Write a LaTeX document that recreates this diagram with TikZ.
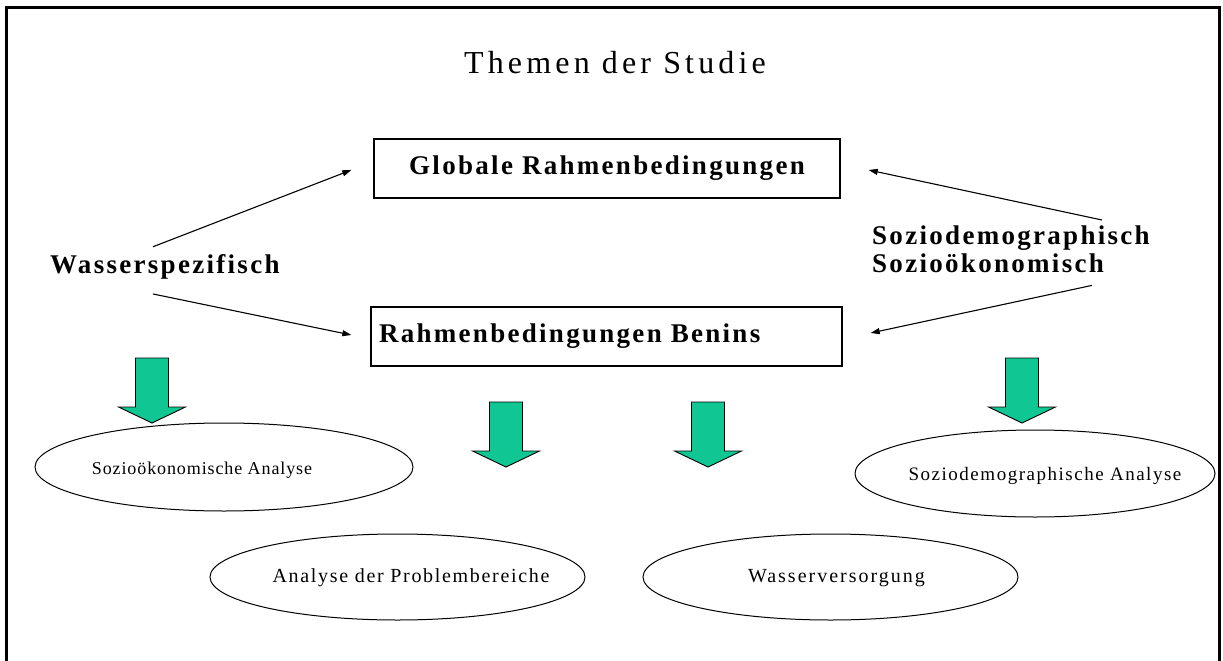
\documentclass[tikz,border=0pt]{standalone}
\usepackage{fontspec}
\setmainfont{Liberation Serif}
\newfontfamily\spbold[LetterSpace=8.5]{Liberation Serif}
\newfontfamily\sptitle[LetterSpace=13]{Liberation Serif}
\usetikzlibrary{arrows.meta,calc,shapes.geometric}
\definecolor{arrowgreen}{RGB}{16,198,146}
\tikzset{
  boldtxt/.style={font=\spbold\bfseries\fontsize{27}{28}\selectfont, inner sep=0pt},
  regtxt/.style={inner sep=0pt},
  titletxt/.style={font=\sptitle\fontsize{32}{36}\selectfont, inner sep=0pt},
  framebox/.style={draw, line width=1.4pt, minimum height=59pt, inner ysep=0pt,
                   font=\spbold\bfseries\fontsize{27}{28}\selectfont},
  oval/.style={draw, ellipse, line width=1pt, inner sep=0pt},
  conn/.style={line width=1.1pt, -{Triangle[length=9pt,width=6pt]}},
  outerframe/.style={line width=3pt},
  garrow/.pic={\filldraw[fill=arrowgreen, draw=black, line width=0.9pt, line join=miter]
      (-16.5,0) -- (16.5,0) -- (16.5,49) -- (33.5,49) -- (0,65) -- (-33.5,49) -- (-16.5,49) -- cycle;}
}
\begin{document}
\begin{tikzpicture}[x=1pt,y=-1pt]
\useasboundingbox (0,0) rectangle (1223,661);
\fill[white] (0,0) rectangle (1223,661);
\draw[outerframe] (6,680) -- (6,8) -- (1219,8) -- (1219,680);

\node[titletxt, anchor=base] (title) at (615,74) {Themen der Studie};

\node[framebox, minimum width=466pt] (glob) at (607,168.5) {Globale Rahmenbedingungen};
\node[framebox, minimum width=471pt, text width=455pt, inner xsep=8pt, align=left] (benin) at (606.5,336.5) {Rahmenbedingungen Benins};

\node[boldtxt, anchor=base west] (wasser) at (50,273) {Wasserspezifisch};
\node[boldtxt, anchor=north west, align=left] (sozio) at (872,226) {Soziodemographisch\\Sozioökonomisch};

\draw[conn] ($(wasser.north)+(-12,-7)$) -- ($(glob.west)+(-22,1.5)$);
\draw[conn] ($(wasser.south)+(-12,15)$) -- ($(benin.west)+(-19,-1.5)$);
\draw[conn] ($(sozio.north)+(91,-6)$) -- ($(glob.east)+(28,1.5)$);
\draw[conn] ($(sozio.south)+(81,12)$) -- ($(benin.east)+(28,-3.5)$);

\pic (g1) at (152,358) {garrow};
\pic (g2) at (506,402) {garrow};
\pic (g3) at (708,402) {garrow};
\pic (g4) at (1022,358) {garrow};

\node[oval, minimum width=378pt, minimum height=88pt] (e1) at (224,467) {};
\node[oval, minimum width=375pt, minimum height=86pt] (e2) at (397.5,577) {};
\node[oval, minimum width=375pt, minimum height=86pt] (e3) at (830.5,577) {};
\node[oval, minimum width=360pt, minimum height=87pt] (e4) at (1035,473.5) {};

\node[regtxt, font=\fontsize{18}{22}\selectfont\addfontfeatures{LetterSpace=5}] (t1) at (202,470) {Sozioökonomische Analyse};
\node[regtxt, font=\fontsize{20}{24}\selectfont\addfontfeatures{LetterSpace=8.4}] (t2) at (411,578) {Analyse der Problembereiche};
\node[regtxt, font=\fontsize{20}{24}\selectfont\addfontfeatures{LetterSpace=10}] (t3) at (836.5,578) {Wasserversorgung};
\node[regtxt, font=\fontsize{19}{22}\selectfont\addfontfeatures{LetterSpace=8}] (t4) at (1045,475.5) {Soziodemographische Analyse};
\end{tikzpicture}
\end{document}
